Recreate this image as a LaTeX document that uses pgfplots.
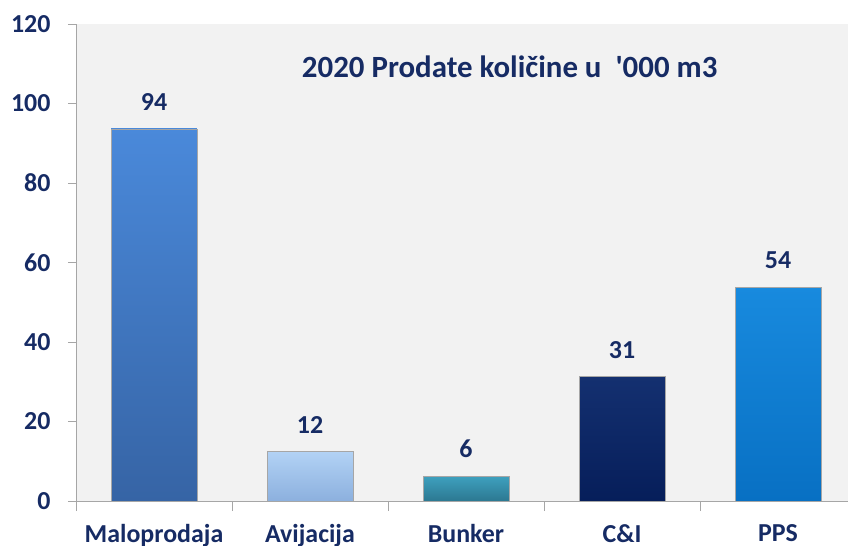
\documentclass[border=0pt]{standalone}
\usepackage{pgfplots}
\pgfplotsset{compat=1.18}
\usepackage{fontspec}
\setmainfont{Carlito}
\newfontfamily\plainfont{Carlito}
\definecolor{txt}{RGB}{22,43,100}
\definecolor{axgray}{RGB}{166,166,166}
\definecolor{bg}{RGB}{242,242,242}
\begin{document}
\begin{tikzpicture}
\begin{axis}[
  at={(76bp,45bp)}, anchor=south west,
  scale only axis, width=780bp, height=477bp,
  xmin=-0.5, xmax=4.5, ymin=0, ymax=120,
  axis x line*=bottom, axis y line*=left,
  axis line style={axgray, line width=0.8pt},
  axis background/.style={fill=bg, draw=none},
  ybar, bar width=0.55, bar shift=0pt,
  xtick={0,1,2,3,4},
  xticklabels={Maloprodaja,Avijacija,Bunker,C\&I,PPS},
  minor xtick={-0.5,0.5,1.5,2.5,3.5},
  major x tick style={draw=none},
  minor x tick style={axgray, line width=0.8pt},
  minor tick length=10bp,
  ytick={0,20,...,120},
  y tick style={axgray, line width=0.8pt},
  major tick length=8bp,
  tick align=outside,
  tick label style={font=\fontsize{26}{29}\selectfont\bfseries, text=txt},
  /pgf/number format/assume math mode=true,
  yticklabel style={xshift=-14bp},
  xticklabel style={yshift=-12bp},
  nodes near coords,
  nodes near coords style={font=\fontsize{26}{29}\selectfont\bfseries, text=txt, anchor=south, inner sep=0pt, yshift=18bp,
    /pgf/number format/.cd, fixed, precision=0, assume math mode=true},
  every axis plot/.append style={draw=gray!70, line width=0.5pt},
  title={\plainfont\bfseries 2020 Prodate količine u\ \ '000 m3},
  title style={at={(0.556,0.897)}, anchor=center, font=\fontsize{31}{34}\selectfont, text=txt},
]
\addplot[shading=axis, top color={rgb,255:red,74;green,137;blue,218}, bottom color={rgb,255:red,54;green,100;blue,165}] coordinates {(0,93.6)};
\addplot[shading=axis, top color={rgb,255:red,178;green,210;blue,245}, bottom color={rgb,255:red,140;green,176;blue,222}] coordinates {(1,12.4)};
\addplot[shading=axis, top color={rgb,255:red,62;green,160;blue,190}, bottom color={rgb,255:red,44;green,120;blue,145}] coordinates {(2,6.2)};
\addplot[shading=axis, top color={rgb,255:red,20;green,48;blue,112}, bottom color={rgb,255:red,6;green,30;blue,90}] coordinates {(3,31.3)};
\addplot[shading=axis, top color={rgb,255:red,24;green,138;blue,222}, bottom color={rgb,255:red,8;green,112;blue,195}] coordinates {(4,53.8)};
\end{axis}
\pgfresetboundingbox
\useasboundingbox (0,0) rectangle (848bp,546bp);
\end{tikzpicture}
\end{document}
